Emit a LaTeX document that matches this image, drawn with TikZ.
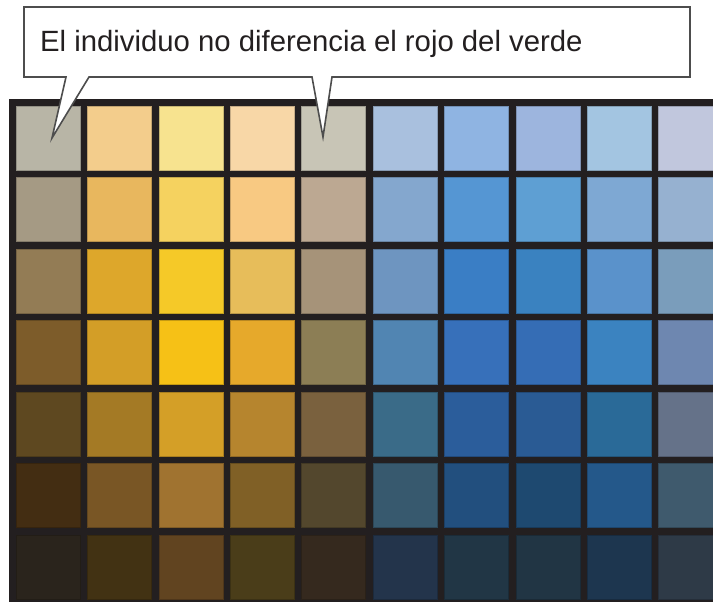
\documentclass[tikz,border=0pt]{standalone}
\usepackage{fontspec}
\setmainfont{Liberation Sans}
\usetikzlibrary{positioning}
\definecolor{gridbg}{HTML}{231F20}
\definecolor{calloutline}{HTML}{4D4D4D}
\definecolor{cellc}{HTML}{FFFFFF}
\tikzset{
  cell/.style={inner sep=0pt, minimum size=64bp, fill=cellc, draw=cellc!80!black, line width=0.6bp},
  callout/.style={fill=white, draw=calloutline, line width=1.6bp, line join=miter},
  msgtext/.style={anchor=base west, inner sep=0pt, text=gridbg, font=\fontsize{29.3bp}{34bp}\selectfont}
}

\begin{document}
\begin{tikzpicture}[x=1bp, y=-1bp]
\useasboundingbox (0,0) rectangle (713,602);
% black frame behind the swatches
\fill[gridbg] (9,99) rectangle (713,602);
% swatches, one row per entry
\foreach \row [count=\j from 0] in {
  {B8B5A6,F3CD8C,F7E38F,F8D7A7,C8C5B6,A9C0DE,8FB4E2,9DB5DE,A3C5E1,C1C7DD},
  {A59A84,E8B75E,F5D25F,F8C982,BCA892,84A7CE,5596D3,5E9FD3,7EA8D3,96B1D0},
  {937C55,DDA72B,F5C928,E7BD5A,A69379,6E95C0,3A7EC5,3A82C0,5A92CB,7A9DBB},
  {7D5C2A,D39E27,F6C116,E6A92B,8C7E55,5185B2,3770BA,356DB5,3B83C0,6E87B0},
  {5E4820,A47A25,D49F27,B6852E,7A613E,3A6B88,2B5D9B,2A5B94,2A6A98,657289},
  {432D12,795625,A07330,806026,53472D,37596E,224F7E,1E4970,24588A,3F5A6D},
  {2A241C,423213,614420,4A3D19,35291E,23344B,213645,213544,1D364F,2E3A47}}
{
  \foreach \hex [count=\i from 0] in \row {
    \definecolor{cellc}{HTML}{\hex}
    \node[cell] (c-\j-\i) at ({48+71.4*\i},{138+71.5*\j}) {};
  }
}
% speech bubble with two pointers
\draw[callout] (24,7) -- (690,7) -- (690,77) -- (332,77) -- (323,137) -- (312,77)
  -- (89,77) -- (52,138) -- (66,77) -- (24,77) -- cycle;
\node[msgtext] (msg) at (40,52) {El individuo no diferencia el rojo del verde};
\end{tikzpicture}
\end{document}
